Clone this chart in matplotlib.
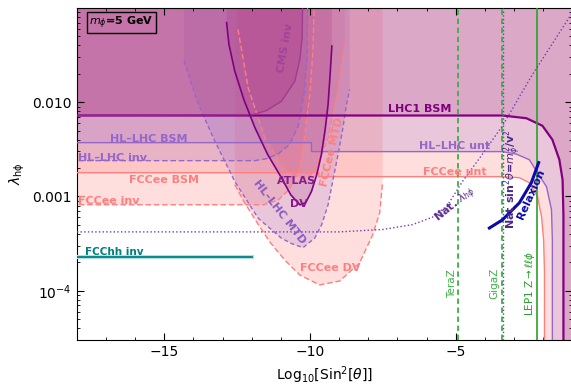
import numpy as np
import matplotlib
matplotlib.use("Agg")
import matplotlib.pyplot as plt

# ---- data: x = log10(sin^2 theta), y = log10(lambda_hphi) ----
lhc1_x = [-18.5, -3.4, -2.58, -2.03, -1.69, -1.45, -1.34, -1.31, -1.31]
lhc1_y = [-2.141, -2.141, -2.170, -2.250, -2.397, -2.610, -2.822, -3.2, -4.6]

hl_x = [-18.5, -9.95, -9.95, -3.4, -2.93, -2.48, -2.20, -1.89, -1.72, -1.69, -1.69]
hl_y = [-2.429, -2.429, -2.524, -2.524, -2.550, -2.610, -2.748, -2.897, -3.141, -3.461, -4.6]

fcc_x = [-18.5, -9.7, -9.7, -3.4, -2.82, -2.48, -2.20, -2.06, -1.99, -1.96, -1.96]
fcc_y = [-2.748, -2.748, -2.790, -2.790, -2.801, -2.854, -3.003, -3.216, -3.461, -3.8, -4.6]

hlinv_x = [-18.5, -11.9, -11.5, -11.1, -10.7, -10.4, -10.2, -10.1, -10.08]
hlinv_y = [-2.620, -2.620, -2.60, -2.55, -2.45, -2.25, -1.90, -1.50, -0.9]

fccinv_x = [-18.5, -11.6, -11.1, -10.7, -10.4, -10.2, -10.0, -9.9, -9.85]
fccinv_y = [-3.088, -3.088, -3.04, -2.92, -2.72, -2.40, -1.90, -1.45, -0.9]

cms_x = [-18.5, -12.0, -11.5, -10.98, -10.52, -10.35, -10.27, -10.25]
cms_y = [-2.141, -2.135, -2.09, -1.99, -1.777, -1.55, -1.315, -0.9]

atlas_x = [-12.86, -12.78, -12.58, -12.27, -11.89, -11.45, -10.98, -10.66, -10.35,
           -10.15, -9.95, -9.77, -9.61, -9.48, -9.38, -9.31, -9.25]
atlas_y = [-1.155, -1.386, -1.670, -1.971, -2.269, -2.556, -2.801, -2.982, -3.088,
           -3.067, -2.947, -2.769, -2.556, -2.290, -2.024, -1.705, -1.404]

hlmtd_x = [-14.32, -13.89, -13.6, -13.26, -12.58, -11.78, -10.98, -10.63, -10.24,
           -9.84, -9.6, -9.38, -9.04, -8.88, -8.75, -8.64]
hlmtd_y = [-1.563, -1.971, -2.18, -2.415, -2.840, -3.230, -3.443, -3.50, -3.543,
           -3.443, -3.30, -3.088, -2.556, -2.29, -2.024, -1.865]

fccmtd_x = [-12.47, -12.12, -11.55, -10.98, -10.6, -10.29, -10.05, -9.84, -9.38, -9.04, -8.81]
fccmtd_y = [-1.227, -1.847, -2.379, -2.663, -2.77, -2.804, -2.79, -2.734, -2.379, -1.847, -1.368]

fccdv_x = [-12.58, -12.24, -11.83, -11.38, -10.87, -10.35, -9.67, -8.98, -8.30,
           -7.85, -7.61, -7.51]
fccdv_y = [-2.876, -3.067, -3.27, -3.482, -3.673, -3.833, -3.939, -3.897, -3.705,
           -3.407, -3.173, -2.844]

nat_x = [-18.5, -9.0, -7.5, -6.5, -5.8, -5.3, -4.77, -4.2, -3.4, -2.4, -1.11, -0.9]
nat_y = [-3.376, -3.376, -3.35, -3.30, -3.22, -3.10, -2.84, -2.60, -2.25, -1.72, -1.10, -1.0]

relax_x = [-3.85, -3.40, -2.82, -2.41, -2.16]
relax_y = [-3.335, -3.248, -3.067, -2.854, -2.641]

fcchh_x = [-18.5, -12.0]
fcchh_y = [-3.641, -3.641]

nat_sin2 = -3.38
teraz_x = -4.93
gigaz_x = -3.40
lep1_x = -2.23

# ---- colours ----
c_lhc = '#800080'
c_lhc_fill = '#a8307f'
c_hl = '#9467c8'
c_fcc = '#ff7f7f'
c_nat = '#6a3dc0'
c_green = '#3cb043'

TOP = 0.0
BOT = -4.6

def P(v):
    return np.power(10.0, np.asarray(v, dtype=float))

fig = plt.figure(figsize=(5.71, 3.89), dpi=100)
ax = fig.add_axes([0.1343, 0.126, 0.8683, 0.8535])

# ---- filled exclusion regions ----
def fill_bsm(x, y, c, a):
    xs = np.r_[x, -0.5, -0.5, -18.5]
    ys = np.r_[y, BOT, TOP, TOP]
    ax.fill(xs, P(ys), color=c, alpha=a, lw=0, zorder=1)

def fill_inv(x, y, c, a):
    xs = np.r_[x, -18.5]
    ys = np.r_[y, TOP]
    ax.fill(xs, P(ys), color=c, alpha=a, lw=0, zorder=1)

def fill_u(x, y, c, a):
    xs = np.r_[x, x[-1], x[0]]
    ys = np.r_[y, TOP, TOP]
    ax.fill(xs, P(ys), color=c, alpha=a, lw=0, zorder=1)

fill_bsm(fcc_x, fcc_y, c_fcc, 0.25)
fill_inv(fccinv_x, fccinv_y, c_fcc, 0.25)
fill_u(fccdv_x, fccdv_y, c_fcc, 0.25)
fill_u(fccmtd_x, fccmtd_y, c_fcc, 0.25)
fill_bsm(hl_x, hl_y, c_hl, 0.2)
fill_inv(hlinv_x, hlinv_y, c_hl, 0.2)
fill_u(hlmtd_x, hlmtd_y, c_hl, 0.2)
fill_bsm(lhc1_x, lhc1_y, c_lhc_fill, 0.2)
fill_inv(cms_x, cms_y, c_lhc_fill, 0.25)
fill_u(atlas_x, atlas_y, c_lhc_fill, 0.2)

# ---- curves ----
ax.plot(fcc_x, P(fcc_y), color=c_fcc, lw=1.0, zorder=3)
ax.plot(fccinv_x, P(fccinv_y), color=c_fcc, lw=1.0, ls=(0, (4, 2)), zorder=3)
ax.plot(fccdv_x, P(fccdv_y), color=c_fcc, lw=1.0, ls=(0, (4, 2)), zorder=3)
ax.plot(fccmtd_x, P(fccmtd_y), color=c_fcc, lw=1.0, ls=(0, (4, 2)), zorder=3)
ax.plot(hl_x, P(hl_y), color=c_hl, lw=1.0, zorder=3)
ax.plot(hlinv_x, P(hlinv_y), color=c_hl, lw=1.0, ls=(0, (4, 2)), zorder=3)
ax.plot(hlmtd_x, P(hlmtd_y), color=c_hl, lw=1.0, ls=(0, (3, 2)), zorder=3)
ax.plot(lhc1_x, P(lhc1_y), color=c_lhc, lw=1.6, zorder=3)
ax.plot(cms_x, P(cms_y), color='#99338f', lw=1.0, alpha=0.8, zorder=3)
ax.plot(atlas_x, P(atlas_y), color=c_lhc, lw=1.2, zorder=3)
ax.plot(fcchh_x, P(fcchh_y), color='#b0e0e6', lw=3.0, zorder=3)
ax.plot(fcchh_x, P(fcchh_y), color='#008080', lw=1.3, zorder=3)

ax.axvline(teraz_x, color=c_green, lw=1.3, ls=(0, (3, 2)), zorder=4)
ax.axvline(gigaz_x, color=c_green, lw=1.3, ls=(0, (3, 2)), zorder=4)
ax.axvline(nat_sin2, color=c_nat, lw=1.0, ls=':', zorder=4)
ax.axvline(lep1_x, color='#2ca02c', lw=1.2, zorder=4)
ax.plot(nat_x, P(nat_y), color=c_nat, lw=1.0, ls=':', zorder=4)
ax.plot(relax_x, P(relax_y), color='#0a0aa8', lw=2.2, zorder=5)

# ---- labels ----
kw = dict(fontsize=8, fontweight='bold', ha='center', va='center', zorder=6)
ax.text(-6.24, P(-2.067), 'LHC1 BSM', color=c_lhc, **kw)
ax.text(-15.52, P(-2.386), 'HL–LHC BSM', color=c_hl, **kw)
ax.text(-17.97, P(-2.588), 'HL–LHC inv', color=c_hl, fontsize=8, fontweight='bold',
        ha='left', va='center', zorder=6)
ax.text(-15.0, P(-2.822), 'FCCee BSM', color=c_fcc, **kw)
ax.text(-17.95, P(-3.046), 'FCCee inv', color=c_fcc, fontsize=8, fontweight='bold',
        ha='left', va='center', zorder=6)
ax.text(-17.7, P(-3.59), 'FCChh inv', color='#008080', fontsize=7.5, fontweight='bold',
        ha='left', va='center', zorder=6)
ax.text(-5.04, P(-2.46), 'HL–LHC unt', color=c_hl, **kw)
ax.text(-5.04, P(-2.742), 'FCCee unt', color=c_fcc, **kw)
ax.text(-10.86, P(-1.42), 'CMS inv', color='#a0449a', rotation=80, **kw)
ax.text(-10.45, P(-2.833), 'ATLAS', color='#8b1a89', **kw)
ax.text(-10.38, P(-3.078), 'DV', color='#8b1a89', **kw)
ax.text(-11.05, P(-3.16), 'HL–LHC MTD', color='#8a5cc0', rotation=-52, **kw)
ax.text(-9.25, P(-2.525), 'FCCee MTD', color=c_fcc, rotation=77, **kw)
ax.text(-9.32, P(-3.758), 'FCCee DV', color=c_fcc, **kw)
ax.text(-5.0, P(-3.09), r'Nat. $\lambda_{h\phi}$', color='#5c2d91', rotation=39, **kw)
ax.text(-3.06, P(-2.813), r'Nat sin$^2\theta$=$m_\phi^2$/v$^2$', color='#4b2a8a',
        rotation=90, **kw)
ax.text(-2.40, P(-2.98), 'Relaxion', color='#0a0aa8', rotation=66, **kw)

gk = dict(fontsize=7.5, ha='center', va='center', rotation=90, zorder=6)
ax.text(-5.14, P(-3.92), 'TeraZ', color=c_green, **gk)
ax.text(-3.67, P(-3.92), 'GigaZ', color=c_green, **gk)
ax.text(-2.44, P(-3.92), r'LEP1 Z$\to\ell\ell\phi$', color='#2ca02c', **gk)

ax.text(0.025, 0.955, r'$\boldsymbol{m_\phi}$=5 GeV', transform=ax.transAxes, fontsize=8,
        fontweight='bold', ha='left', va='center', zorder=7,
        bbox=dict(boxstyle='square,pad=0.2', fc='none', ec='black', lw=1))

# ---- axes ----
ax.set_yscale('log')
ax.set_xlim(-18, -1)
ax.set_ylim(3e-5, 0.1)
ax.set_xticks([-15, -10, -5])
ax.set_xticklabels(['−15', '−10', '−5'])
ax.set_xticks(np.arange(-18, 0), minor=True)
ax.set_yticks([1e-4, 1e-3, 1e-2])
ax.set_yticklabels([r'$10^{-4}$', '0.001', '0.010'])
ax.tick_params(which='both', direction='in', top=True, right=True, labelsize=10)
ax.tick_params(which='major', length=5)
ax.tick_params(which='minor', length=2.5)
ax.set_xlabel(r'Log$_{10}$[Sin$^2$[$\theta$]]', fontsize=10)
ax.set_ylabel(r'$\lambda_{\rm h\phi}$', fontsize=10)

fig.savefig('out.png', dpi=100)
